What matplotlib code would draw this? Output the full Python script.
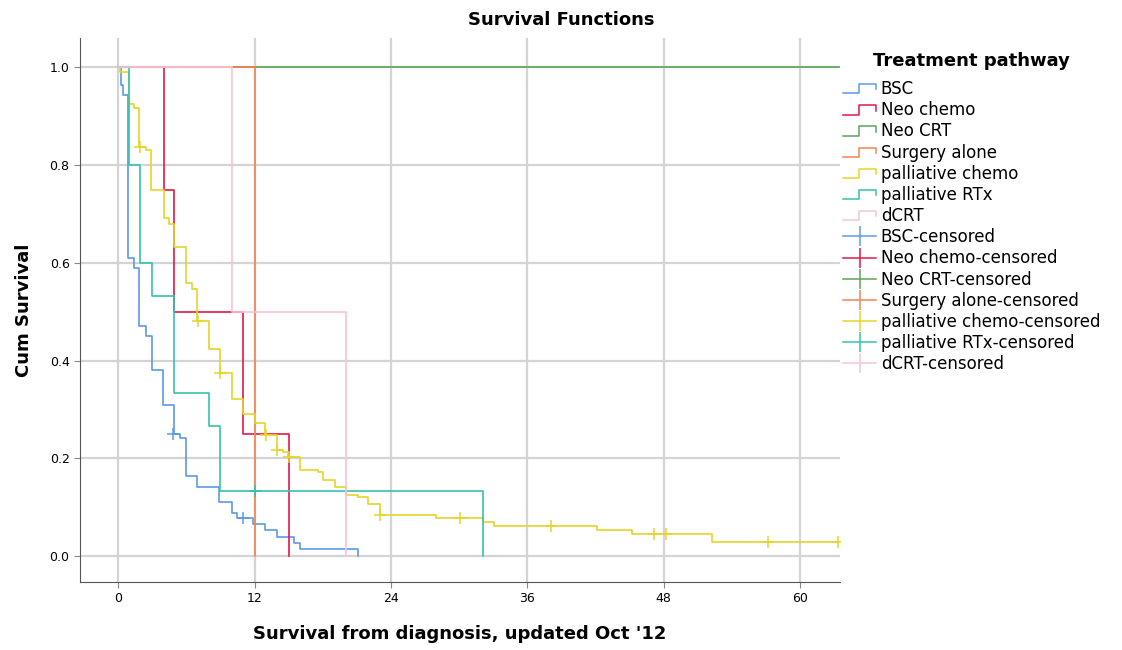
import matplotlib
matplotlib.use("Agg")
import matplotlib.pyplot as plt
from matplotlib.lines import Line2D
from matplotlib.legend_handler import HandlerBase

# ---- data (months, cumulative survival) ----
groups = ["BSC", "Neo chemo", "Neo CRT", "Surgery alone",
          "palliative chemo", "palliative RTx", "dCRT"]
colours = ["#5b9be8", "#e2184c", "#5fa35c", "#f5834f",
           "#e6d42a", "#35c2ad", "#f9c3d8"]

bsc_t = [0.24, 0.47, 0.88, 1.43, 1.87, 2.46, 2.94, 3.98, 4.95, 5.45, 5.95,
         6.92, 8.90, 9.99, 10.5, 11.9, 12.9, 14.0, 15.5, 16.0, 21.1]
bsc_s = [0.963, 0.943, 0.61, 0.59, 0.47, 0.45, 0.38, 0.31, 0.25, 0.241, 0.163,
         0.142, 0.111, 0.089, 0.077, 0.065, 0.053, 0.040, 0.027, 0.014, 0.0]
bsc_cens_t = [4.85, 11.0]
bsc_cens_s = [0.25, 0.077]

neo_chemo_t = [4.0, 4.95, 11.0, 15.05]
neo_chemo_s = [0.75, 0.5, 0.25, 0.0]

neo_crt_t = [63.4]
neo_crt_s = [1.0]

surgery_t = [12.0]
surgery_s = [0.0]

pall_chemo_t = [0.15, 0.97, 1.43, 1.85, 2.46, 2.9, 4.04, 4.5, 4.95, 5.98, 6.48,
                6.97, 8.02, 8.96, 9.99, 11.01, 12.04, 12.96, 13.97, 14.47, 14.96,
                16.04, 17.6, 18.04, 19.07, 20.04, 21.12, 22.0, 23.02, 28.0, 32.07,
                33.08, 42.1, 45.2, 52.2, 63.3]
pall_chemo_s = [0.99, 0.924, 0.917, 0.838, 0.830, 0.748, 0.691, 0.679, 0.632,
                0.558, 0.547, 0.481, 0.423, 0.374, 0.322, 0.290, 0.273, 0.247,
                0.218, 0.213, 0.202, 0.177, 0.172, 0.155, 0.142, 0.125, 0.120,
                0.106, 0.084, 0.078, 0.070, 0.062, 0.053, 0.045, 0.029, 0.029]
pall_chemo_cens_t = [1.95, 7.0, 9.0, 13.0, 14.0, 15.0, 23.0, 30.05, 38.1,
                     47.1, 48.2, 57.2, 63.3]
pall_chemo_cens_s = [0.838, 0.481, 0.374, 0.247, 0.218, 0.202, 0.084, 0.078,
                     0.062, 0.045, 0.045, 0.029, 0.029]

pall_rtx_t = [0.97, 1.93, 2.96, 4.95, 8.02, 8.96, 32.1]
pall_rtx_s = [0.8, 0.6, 0.533, 0.333, 0.267, 0.133, 0.0]
pall_rtx_cens_t = [12.0]
pall_rtx_cens_s = [0.133]

dcrt_t = [9.99, 20.04]
dcrt_s = [0.5, 0.0]

times = [bsc_t, neo_chemo_t, neo_crt_t, surgery_t, pall_chemo_t, pall_rtx_t, dcrt_t]
surv = [bsc_s, neo_chemo_s, neo_crt_s, surgery_s, pall_chemo_s, pall_rtx_s, dcrt_s]
cens_t = [bsc_cens_t, [], [], [], pall_chemo_cens_t, pall_rtx_cens_t, []]
cens_s = [bsc_cens_s, [], [], [], pall_chemo_cens_s, pall_rtx_cens_s, []]

x_ticks = [0, 12, 24, 36, 48, 60]
y_ticks = [0.0, 0.2, 0.4, 0.6, 0.8, 1.0]


class StepHandler(HandlerBase):
    """legend key drawn as a small step, like the SPSS output"""
    def create_artists(self, legend, orig_handle, xdescent, ydescent,
                       width, height, fontsize, trans):
        x0, y0 = -xdescent, -ydescent
        xs = [x0, x0 + 0.48 * width, x0 + 0.48 * width, x0 + width, x0 + width]
        ys = [y0 + 0.05 * height, y0 + 0.05 * height, y0 + 0.85 * height,
              y0 + 0.85 * height, y0 + 0.4 * height]
        ln = Line2D(xs, ys, color=orig_handle.get_color(), lw=1.1)
        ln.set_transform(trans)
        return [ln]


fig = plt.figure(figsize=(11.22, 6.5), dpi=100)
ax = fig.add_axes([80 / 1122, 1 - 582 / 650, 760 / 1122, 544 / 650])

for i in range(len(groups)):
    xs = [0] + times[i]
    ys = [1.0] + surv[i]
    ax.step(xs, ys, where="post", color=colours[i], lw=1.2, zorder=3 + i * 0.1)
    if cens_t[i]:
        ax.plot(cens_t[i], cens_s[i], ls="none", marker="+", ms=8, mew=1.1,
                color=colours[i], zorder=3 + i * 0.1)

ax.set_xlim(-3.35, 63.5)
ax.set_ylim(-0.053, 1.06)
ax.set_xticks(x_ticks)
ax.set_yticks(y_ticks)
ax.set_xticklabels([str(v) for v in x_ticks])
ax.set_yticklabels(["%.1f" % v for v in y_ticks])
ax.tick_params(labelsize=9, length=4, color="#888888", width=0.8)
ax.grid(True, color="#d4d4d4", lw=1.6, zorder=0)
for s in ["top", "right"]:
    ax.spines[s].set_visible(False)
for s in ["left", "bottom"]:
    ax.spines[s].set_color("#555555")
    ax.spines[s].set_linewidth(0.8)

ax.set_xlabel("Survival from diagnosis, updated Oct '12", fontsize=13,
              fontweight="bold", labelpad=14)
ax.set_ylabel("Cum Survival", fontsize=13, fontweight="bold", labelpad=12)
fig.text(0.5, 1 - 20 / 650, "Survival Functions", ha="center", va="center",
         fontsize=13, fontweight="bold")

handles = []
labels = []
for i, g in enumerate(groups):
    handles.append(Line2D([0], [0], color=colours[i], lw=1.1))
    labels.append(g)
cens_handles = []
for i, g in enumerate(groups):
    h = Line2D([0], [0], color=colours[i], lw=1.1, marker="|", ms=15, mew=1.1)
    cens_handles.append(h)
    labels.append(g + "-censored")
hmap = {h: StepHandler() for h in handles}
leg = fig.legend(handles + cens_handles, labels, handler_map=hmap,
                 loc="upper left", bbox_to_anchor=(840 / 1122, 1 - 49 / 650),
                 frameon=False, fontsize=12, labelspacing=0.19,
                 handlelength=1.95, handletextpad=0.3, borderaxespad=0,
                 borderpad=0.2, title="Treatment pathway",
                 title_fontproperties={"weight": "bold", "size": 13})
leg._legend_box.sep = 7

fig.savefig("out.png", dpi=100)
